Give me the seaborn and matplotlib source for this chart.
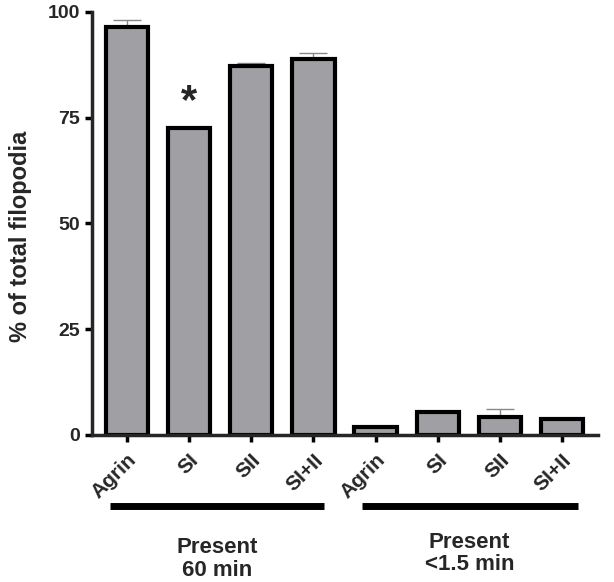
import matplotlib
matplotlib.use('Agg')
import matplotlib.pyplot as plt
import numpy as np
import pandas as pd
import seaborn as sns

sns.set_theme(style='ticks')
plt.rcParams['font.family'] = ['Liberation Sans', 'DejaVu Sans']
plt.rcParams['font.weight'] = 'bold'

# data
conditions = ['Agrin', 'SI', 'SII', 'SI+II', 'Agrin', 'SI', 'SII', 'SI+II']
groups = ['60', '60', '60', '60', '1.5', '1.5', '1.5', '1.5']
means = [96.5, 72.6, 87.1, 88.8, 2.0, 5.5, 4.3, 3.8]
sems = [1.6, 0.0, 0.8, 1.4, 0.0, 0.0, 1.8, 0.0]
group_labels = ['Present\n60 min', 'Present\n<1.5 min']

df = pd.DataFrame({
    'key': [f'{c}_{g}' for c, g in zip(conditions, groups)],
    'mean': means,
})

fig = plt.figure(figsize=(6.14, 5.82), dpi=100)
ax = fig.add_axes([0.150, 0.2526, 0.824, 0.727])

pos = np.arange(len(means))
# upper error bars only
ax.errorbar(pos, means, yerr=[np.zeros(len(sems)), sems], fmt='none',
            ecolor='#888888', elinewidth=1, capsize=10, capthick=1, zorder=1)

sns.barplot(data=df, x='key', y='mean', color='#a09fa4', saturation=1,
            edgecolor='black', linewidth=3, width=0.68, ax=ax, zorder=2)

ax.set_xlim(-0.56, 7.58)
ax.set_ylim(0, 100)
ax.set_yticks([0, 25, 50, 75, 100])
ax.set_yticklabels(['0', '25', '50', '75', '100'], fontsize=14, fontweight='bold')
ax.set_xticks(pos)
ax.set_xticklabels(conditions, rotation=45, ha='right', rotation_mode='anchor',
                   fontsize=15, fontweight='bold')
ax.set_xlabel('')
ax.set_ylabel('% of total filopodia', fontsize=17, fontweight='bold', labelpad=24)
ax.yaxis.set_label_coords(-0.118, 0.47)

for side in ['top', 'right']:
    ax.spines[side].set_visible(False)
for side in ['left', 'bottom']:
    ax.spines[side].set_linewidth(2.5)
ax.tick_params(axis='both', width=2.5, length=5, direction='out', color='black')
ax.tick_params(axis='x', pad=6)

# significance marker
ax.text(1, 78.7, '*', ha='center', va='center', fontsize=30, fontweight='bold')

# group bars and labels under the axis
trans = ax.get_xaxis_transform()
for (x0, x1), label, ty in zip([(-0.27, 3.17), (3.78, 7.25)], group_labels, [-0.241, -0.229]):
    ax.plot([x0, x1], [-0.168, -0.168], color='black', lw=5, transform=trans,
            clip_on=False, solid_capstyle='butt')
    ax.text((x0 + x1) / 2, ty, label, transform=trans, ha='center', va='top',
            fontsize=16, fontweight='bold', linespacing=1.1)

fig.savefig('out.png', dpi=100)
